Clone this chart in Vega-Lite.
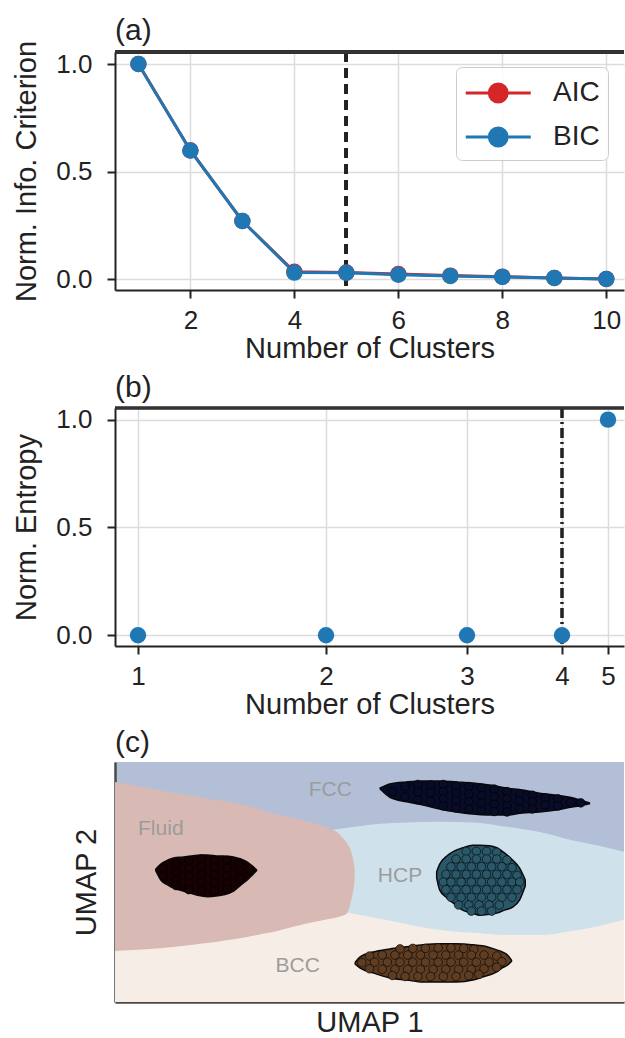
{
  "$schema": "https://vega.github.io/schema/vega-lite/v6.json",
  "background": "white",
  "padding": {"left": 12, "top": 16, "right": 0, "bottom": 0},
  "spacing": 9,
  "resolve": {"scale": {"color": "independent", "fill": "independent", "x": "independent", "y": "independent"}},
  "config": {
    "font": "Liberation Sans",
    "view": {"stroke": null},
    "axis": {
      "labelFontSize": 26, "titleFontSize": 29, "titleFontWeight": "normal",
      "labelColor": "#222", "titleColor": "#222", "tickColor": "#222", "domainColor": "#222",
      "tickSize": 8, "tickWidth": 2, "domainWidth": 2, "gridColor": "#dcdcdc", "gridWidth": 1.5,
      "zindex": 1
    },
    "title": {"fontSize": 30, "fontWeight": "normal", "anchor": "start", "frame": "group", "offset": 4, "color": "#222"}
  },
  "vconcat": [
    {
      "width": 509, "height": 238,
      "title": {"text": "(a)", "offset": -6},
      "data": {"values": [
        {"k": 1, "c": "AIC", "v": 1.0}, {"k": 2, "c": "AIC", "v": 0.598}, {"k": 3, "c": "AIC", "v": 0.27},
        {"k": 4, "c": "AIC", "v": 0.034}, {"k": 5, "c": "AIC", "v": 0.03}, {"k": 6, "c": "AIC", "v": 0.023},
        {"k": 7, "c": "AIC", "v": 0.016}, {"k": 8, "c": "AIC", "v": 0.011}, {"k": 9, "c": "AIC", "v": 0.005},
        {"k": 10, "c": "AIC", "v": 0.0},
        {"k": 1, "c": "BIC", "v": 1.0}, {"k": 2, "c": "BIC", "v": 0.598}, {"k": 3, "c": "BIC", "v": 0.27},
        {"k": 4, "c": "BIC", "v": 0.03}, {"k": 5, "c": "BIC", "v": 0.029}, {"k": 6, "c": "BIC", "v": 0.02},
        {"k": 7, "c": "BIC", "v": 0.014}, {"k": 8, "c": "BIC", "v": 0.01}, {"k": 9, "c": "BIC", "v": 0.005},
        {"k": 10, "c": "BIC", "v": 0.0}
      ]},
      "layer": [
        {
          "mark": {"type": "rule", "strokeDash": [10, 6], "strokeWidth": 3, "color": "#222"},
          "encoding": {"x": {"datum": 5, "type": "quantitative"}}
        },
        {
          "mark": {"type": "line", "strokeWidth": 3, "point": {"filled": true, "size": 270, "opacity": 1}},
          "encoding": {
            "x": {"field": "k", "type": "quantitative", "scale": {"domain": [0.55, 10.34], "nice": false, "zero": false},
                  "axis": {"values": [2, 4, 6, 8, 10], "title": "Number of Clusters", "labelPadding": 9, "titlePadding": 1, "grid": true}},
            "y": {"field": "v", "type": "quantitative", "scale": {"domain": [-0.051, 1.056], "nice": false, "zero": false},
                  "axis": {"values": [0, 0.5, 1], "format": ".1f", "title": "Norm. Info. Criterion", "labelPadding": 15, "titlePadding": 14, "grid": true}},
            "color": {"field": "c", "type": "nominal",
                      "scale": {"domain": ["AIC", "BIC"], "range": ["#d62728", "#1f77b4"]},
                      "legend": {
                        "title": null, "orient": "none", "legendX": 341, "legendY": 15,
                        "padding": 8, "cornerRadius": 6, "strokeColor": "#cccccc", "fillColor": "rgba(255,255,255,0.85)",
                        "labelFontSize": 28, "labelColor": "#222", "labelOffset": 53,
                        "symbolType": "M-1,0L3,0M0.45,0A0.55,0.55 0 1,0 1.55,0A0.55,0.55 0 1,0 0.45,0Z",
                        "symbolSize": 1056, "symbolStrokeWidth": 3, "rowPadding": 11,
                        "encode": {"symbols": {"update": {
                          "fill": {"scale": "color", "field": "value"},
                          "stroke": {"scale": "color", "field": "value"},
                          "opacity": {"value": 1}
                        }}}
                      }}
          }
        },
        {
          "mark": {"type": "rule", "strokeWidth": 2.5, "color": "#333"},
          "encoding": {"y": {"datum": 1.056, "type": "quantitative"}}
        }
      ]
    },
    {
      "width": 509, "height": 238,
      "title": {"text": "(b)"},
      "data": {"values": [
        {"k": 1, "e": 0}, {"k": 2, "e": 0}, {"k": 3, "e": 0}, {"k": 4, "e": 0}, {"k": 5, "e": 1}
      ]},
      "layer": [
        {
          "mark": {"type": "rule", "strokeDash": [10, 4, 2, 4], "strokeWidth": 2.5, "color": "#222"},
          "encoding": {"x": {"datum": 4, "type": "quantitative"}}
        },
        {
          "mark": {"type": "point", "filled": true, "size": 270, "opacity": 1, "color": "#1f77b4"},
          "encoding": {
            "x": {"field": "k", "type": "quantitative",
                  "scale": {"domain": [0.89, 1, 2, 3, 4, 5, 6], "range": [0, 23, 211, 352, 447, 493, 509], "nice": false, "zero": false},
                  "axis": {"values": [1, 2, 3, 4, 5], "format": "d", "title": "Number of Clusters", "labelPadding": 9, "titlePadding": 1, "grid": true}},
            "y": {"field": "e", "type": "quantitative", "scale": {"domain": [-0.05, 1.054], "nice": false, "zero": false},
                  "axis": {"values": [0, 0.5, 1], "format": ".1f", "title": "Norm. Entropy", "labelPadding": 15, "titlePadding": 14, "grid": true}}
          }
        },
        {
          "mark": {"type": "rule", "strokeWidth": 2.5, "color": "#333"},
          "encoding": {"y": {"datum": 1.054, "type": "quantitative"}}
        }
      ]
    },
    {
      "width": 509, "height": 240,
      "title": {"text": "(c)"},
      "view": {"fill": "#b2bfd7"},
      "encoding": {
        "x": {"type": "quantitative", "scale": {"domain": [0, 10], "nice": false, "zero": false},
              "axis": {"title": "UMAP 1", "labels": false, "ticks": false, "grid": false, "titlePadding": 6, "domainColor": "#4a4a4a", "domainWidth": 2.5}},
        "y": {"type": "quantitative", "scale": {"domain": [0, 4.7], "nice": false, "zero": false},
              "axis": {"title": "UMAP 2", "labels": false, "ticks": false, "grid": false, "titlePadding": 14, "domainColor": "#4a4a4a", "domainWidth": 2.5}}
      },
      "layer": [
        {
          "data": {"values": [{"u": 0, "v": 2}, {"u": 10, "v": 2}]},
          "mark": {"type": "area", "color": "#f7ede7"},
          "encoding": {"x": {"field": "u"}, "y": {"field": "v"}}
        },
        {
          "data": {"values": [
            {"u": 4.2, "t": 3.36, "b": 1.8}, {"u": 4.64, "t": 3.42, "b": 1.74}, {"u": 5.01, "t": 3.47, "b": 1.67},
            {"u": 5.6, "t": 3.51, "b": 1.55}, {"u": 6.38, "t": 3.53, "b": 1.41}, {"u": 7.12, "t": 3.51, "b": 1.35},
            {"u": 7.69, "t": 3.43, "b": 1.31}, {"u": 8.34, "t": 3.33, "b": 1.31}, {"u": 8.98, "t": 3.17, "b": 1.39},
            {"u": 9.51, "t": 3.06, "b": 1.49}, {"u": 10, "t": 2.94, "b": 1.61}
          ]},
          "mark": {"type": "area", "color": "#cfe1eb", "interpolate": "monotone"},
          "encoding": {"x": {"field": "u"}, "y": {"field": "t"}, "y2": {"field": "b"}}
        },
        {
          "data": {"values": [
            {"v": 1.0, "u": 0}, {"v": 1.04, "u": 0.7}, {"v": 1.14, "u": 1.68}, {"v": 1.35, "u": 2.99},
            {"v": 1.51, "u": 3.64}, {"v": 1.74, "u": 4.56}, {"v": 2.0, "u": 4.64}, {"v": 2.23, "u": 4.69},
            {"v": 2.53, "u": 4.71}, {"v": 2.78, "u": 4.68}, {"v": 3.02, "u": 4.61}, {"v": 3.21, "u": 4.48},
            {"v": 3.37, "u": 4.29}, {"v": 3.57, "u": 3.64}, {"v": 3.66, "u": 3.23}, {"v": 3.9, "u": 2.33},
            {"v": 4.01, "u": 1.66}, {"v": 4.31, "u": 0}
          ]},
          "mark": {"type": "area", "color": "#d9b9b3", "orient": "horizontal", "interpolate": "monotone"},
          "encoding": {"x": {"field": "u", "stack": null}, "y": {"field": "v"}}
        },
        {
          "data": {"values": [
            {"blob": "FCC", "u": 5.21, "t": 4.19, "b": 4.17}, {"blob": "FCC", "u": 5.4, "t": 4.27, "b": 4.01},
            {"blob": "FCC", "u": 5.73, "t": 4.31, "b": 3.92}, {"blob": "FCC", "u": 6.05, "t": 4.33, "b": 3.86},
            {"blob": "FCC", "u": 6.38, "t": 4.33, "b": 3.78}, {"blob": "FCC", "u": 6.71, "t": 4.31, "b": 3.72},
            {"blob": "FCC", "u": 7.03, "t": 4.29, "b": 3.68}, {"blob": "FCC", "u": 7.36, "t": 4.25, "b": 3.66},
            {"blob": "FCC", "u": 7.69, "t": 4.19, "b": 3.66}, {"blob": "FCC", "u": 8.0, "t": 4.15, "b": 3.7},
            {"blob": "FCC", "u": 8.34, "t": 4.09, "b": 3.72}, {"blob": "FCC", "u": 8.67, "t": 4.05, "b": 3.76},
            {"blob": "FCC", "u": 8.98, "t": 4.0, "b": 3.82}, {"blob": "FCC", "u": 9.12, "t": 3.96, "b": 3.84},
            {"blob": "FCC", "u": 9.32, "t": 3.9, "b": 3.88},
            {"blob": "Fluid", "u": 0.8, "t": 2.6, "b": 2.57}, {"blob": "Fluid", "u": 0.9, "t": 2.7, "b": 2.39},
            {"blob": "Fluid", "u": 1.04, "t": 2.78, "b": 2.29}, {"blob": "Fluid", "u": 1.15, "t": 2.82, "b": 2.23},
            {"blob": "Fluid", "u": 1.35, "t": 2.84, "b": 2.17}, {"blob": "Fluid", "u": 1.49, "t": 2.86, "b": 2.13},
            {"blob": "Fluid", "u": 1.68, "t": 2.88, "b": 2.08}, {"blob": "Fluid", "u": 1.82, "t": 2.88, "b": 2.06},
            {"blob": "Fluid", "u": 2.02, "t": 2.86, "b": 2.08}, {"blob": "Fluid", "u": 2.13, "t": 2.86, "b": 2.1},
            {"blob": "Fluid", "u": 2.33, "t": 2.84, "b": 2.17}, {"blob": "Fluid", "u": 2.47, "t": 2.8, "b": 2.29},
            {"blob": "Fluid", "u": 2.6, "t": 2.74, "b": 2.39}, {"blob": "Fluid", "u": 2.7, "t": 2.66, "b": 2.49},
            {"blob": "Fluid", "u": 2.78, "t": 2.59, "b": 2.57},
            {"blob": "HCP", "u": 6.32, "t": 2.55, "b": 2.43}, {"blob": "HCP", "u": 6.38, "t": 2.7, "b": 2.19},
            {"blob": "HCP", "u": 6.52, "t": 2.86, "b": 2.04}, {"blob": "HCP", "u": 6.67, "t": 2.96, "b": 1.92},
            {"blob": "HCP", "u": 6.83, "t": 3.02, "b": 1.8}, {"blob": "HCP", "u": 7.03, "t": 3.07, "b": 1.74},
            {"blob": "HCP", "u": 7.16, "t": 3.07, "b": 1.7}, {"blob": "HCP", "u": 7.36, "t": 3.06, "b": 1.72},
            {"blob": "HCP", "u": 7.5, "t": 3.02, "b": 1.74}, {"blob": "HCP", "u": 7.65, "t": 2.92, "b": 1.8},
            {"blob": "HCP", "u": 7.81, "t": 2.78, "b": 1.86}, {"blob": "HCP", "u": 7.95, "t": 2.62, "b": 2.0},
            {"blob": "HCP", "u": 8.06, "t": 2.39, "b": 2.27},
            {"blob": "BCC", "u": 4.72, "t": 0.78, "b": 0.74}, {"blob": "BCC", "u": 4.81, "t": 0.88, "b": 0.67},
            {"blob": "BCC", "u": 5.07, "t": 0.98, "b": 0.57}, {"blob": "BCC", "u": 5.4, "t": 1.04, "b": 0.47},
            {"blob": "BCC", "u": 5.73, "t": 1.08, "b": 0.43}, {"blob": "BCC", "u": 6.05, "t": 1.12, "b": 0.39},
            {"blob": "BCC", "u": 6.38, "t": 1.14, "b": 0.39}, {"blob": "BCC", "u": 6.71, "t": 1.14, "b": 0.39},
            {"blob": "BCC", "u": 7.03, "t": 1.12, "b": 0.43}, {"blob": "BCC", "u": 7.22, "t": 1.1, "b": 0.49},
            {"blob": "BCC", "u": 7.5, "t": 1.02, "b": 0.59}, {"blob": "BCC", "u": 7.61, "t": 0.98, "b": 0.67},
            {"blob": "BCC", "u": 7.71, "t": 0.92, "b": 0.72}, {"blob": "BCC", "u": 7.79, "t": 0.82, "b": 0.8}
          ]},
          "mark": {"type": "area", "interpolate": "monotone", "stroke": "#0a0a0a", "strokeWidth": 1.5, "fillOpacity": 1},
          "encoding": {
            "x": {"field": "u"}, "y": {"field": "t"}, "y2": {"field": "b"},
            "fill": {"field": "blob", "type": "nominal", "legend": null,
                     "scale": {"domain": ["FCC", "Fluid", "HCP", "BCC"], "range": ["#080c26", "#160202", "#2a5868", "#5e3d22"]}}
          }
        },
        {
          "data": {"values": [
            {"b": "FCC", "u": 5.45, "v": 4.12},
            {"b": "FCC", "u": 5.7, "v": 4.22}, {"b": "FCC", "u": 5.7, "v": 4.02},
            {"b": "FCC", "u": 5.95, "v": 4.26}, {"b": "FCC", "u": 5.95, "v": 4.12}, {"b": "FCC", "u": 5.95, "v": 3.96},
            {"b": "FCC", "u": 6.2, "v": 4.25}, {"b": "FCC", "u": 6.2, "v": 4.1}, {"b": "FCC", "u": 6.2, "v": 3.93},
            {"b": "FCC", "u": 6.45, "v": 4.26}, {"b": "FCC", "u": 6.45, "v": 4.12}, {"b": "FCC", "u": 6.45, "v": 3.98}, {"b": "FCC", "u": 6.45, "v": 3.84},
            {"b": "FCC", "u": 6.7, "v": 4.23}, {"b": "FCC", "u": 6.7, "v": 4.09}, {"b": "FCC", "u": 6.7, "v": 3.94}, {"b": "FCC", "u": 6.7, "v": 3.8},
            {"b": "FCC", "u": 6.95, "v": 4.22}, {"b": "FCC", "u": 6.95, "v": 4.07}, {"b": "FCC", "u": 6.95, "v": 3.92}, {"b": "FCC", "u": 6.95, "v": 3.77},
            {"b": "FCC", "u": 7.2, "v": 4.19}, {"b": "FCC", "u": 7.2, "v": 4.04}, {"b": "FCC", "u": 7.2, "v": 3.89}, {"b": "FCC", "u": 7.2, "v": 3.75},
            {"b": "FCC", "u": 7.45, "v": 4.17}, {"b": "FCC", "u": 7.45, "v": 4.02}, {"b": "FCC", "u": 7.45, "v": 3.87}, {"b": "FCC", "u": 7.45, "v": 3.73},
            {"b": "FCC", "u": 7.7, "v": 4.12}, {"b": "FCC", "u": 7.7, "v": 3.98}, {"b": "FCC", "u": 7.7, "v": 3.84}, {"b": "FCC", "u": 7.7, "v": 3.72},
            {"b": "FCC", "u": 7.95, "v": 4.08}, {"b": "FCC", "u": 7.95, "v": 3.94}, {"b": "FCC", "u": 7.95, "v": 3.78},
            {"b": "FCC", "u": 8.2, "v": 4.05}, {"b": "FCC", "u": 8.2, "v": 3.92}, {"b": "FCC", "u": 8.2, "v": 3.78},
            {"b": "FCC", "u": 8.45, "v": 4.0}, {"b": "FCC", "u": 8.45, "v": 3.86},
            {"b": "FCC", "u": 8.7, "v": 3.98}, {"b": "FCC", "u": 8.7, "v": 3.84},
            {"b": "FCC", "u": 8.95, "v": 3.91}, {"b": "FCC", "u": 9.15, "v": 3.9},
            {"b": "Fluid", "u": 0.95, "v": 2.62}, {"b": "Fluid", "u": 0.95, "v": 2.46},
            {"b": "Fluid", "u": 1.2, "v": 2.72}, {"b": "Fluid", "u": 1.2, "v": 2.56}, {"b": "Fluid", "u": 1.2, "v": 2.4}, {"b": "Fluid", "u": 1.2, "v": 2.28},
            {"b": "Fluid", "u": 1.45, "v": 2.77}, {"b": "Fluid", "u": 1.45, "v": 2.62}, {"b": "Fluid", "u": 1.45, "v": 2.47}, {"b": "Fluid", "u": 1.45, "v": 2.32}, {"b": "Fluid", "u": 1.45, "v": 2.2},
            {"b": "Fluid", "u": 1.7, "v": 2.8}, {"b": "Fluid", "u": 1.7, "v": 2.65}, {"b": "Fluid", "u": 1.7, "v": 2.5}, {"b": "Fluid", "u": 1.7, "v": 2.35}, {"b": "Fluid", "u": 1.7, "v": 2.18},
            {"b": "Fluid", "u": 1.95, "v": 2.78}, {"b": "Fluid", "u": 1.95, "v": 2.63}, {"b": "Fluid", "u": 1.95, "v": 2.48}, {"b": "Fluid", "u": 1.95, "v": 2.33}, {"b": "Fluid", "u": 1.95, "v": 2.17},
            {"b": "Fluid", "u": 2.2, "v": 2.77}, {"b": "Fluid", "u": 2.2, "v": 2.62}, {"b": "Fluid", "u": 2.2, "v": 2.47}, {"b": "Fluid", "u": 2.2, "v": 2.32}, {"b": "Fluid", "u": 2.2, "v": 2.2},
            {"b": "Fluid", "u": 2.45, "v": 2.72}, {"b": "Fluid", "u": 2.45, "v": 2.57}, {"b": "Fluid", "u": 2.45, "v": 2.42},
            {"b": "Fluid", "u": 2.65, "v": 2.6},
            {"b": "HCP", "u": 6.9, "v": 2.95}, {"b": "HCP", "u": 7.1, "v": 2.95}, {"b": "HCP", "u": 7.3, "v": 2.95}, {"b": "HCP", "u": 7.5, "v": 2.93},
            {"b": "HCP", "u": 6.7, "v": 2.8}, {"b": "HCP", "u": 6.9, "v": 2.8}, {"b": "HCP", "u": 7.1, "v": 2.8}, {"b": "HCP", "u": 7.3, "v": 2.8}, {"b": "HCP", "u": 7.5, "v": 2.8}, {"b": "HCP", "u": 7.7, "v": 2.78},
            {"b": "HCP", "u": 6.6, "v": 2.65}, {"b": "HCP", "u": 6.8, "v": 2.65}, {"b": "HCP", "u": 7.0, "v": 2.65}, {"b": "HCP", "u": 7.2, "v": 2.65}, {"b": "HCP", "u": 7.4, "v": 2.65}, {"b": "HCP", "u": 7.6, "v": 2.65}, {"b": "HCP", "u": 7.8, "v": 2.63},
            {"b": "HCP", "u": 6.5, "v": 2.5}, {"b": "HCP", "u": 6.7, "v": 2.5}, {"b": "HCP", "u": 6.9, "v": 2.5}, {"b": "HCP", "u": 7.1, "v": 2.5}, {"b": "HCP", "u": 7.3, "v": 2.5}, {"b": "HCP", "u": 7.5, "v": 2.5}, {"b": "HCP", "u": 7.7, "v": 2.5}, {"b": "HCP", "u": 7.9, "v": 2.48},
            {"b": "HCP", "u": 6.45, "v": 2.35}, {"b": "HCP", "u": 6.6, "v": 2.35}, {"b": "HCP", "u": 6.8, "v": 2.35}, {"b": "HCP", "u": 7.0, "v": 2.35}, {"b": "HCP", "u": 7.2, "v": 2.35}, {"b": "HCP", "u": 7.4, "v": 2.35}, {"b": "HCP", "u": 7.6, "v": 2.35}, {"b": "HCP", "u": 7.8, "v": 2.35}, {"b": "HCP", "u": 7.95, "v": 2.35},
            {"b": "HCP", "u": 6.5, "v": 2.2}, {"b": "HCP", "u": 6.7, "v": 2.2}, {"b": "HCP", "u": 6.9, "v": 2.2}, {"b": "HCP", "u": 7.1, "v": 2.2}, {"b": "HCP", "u": 7.3, "v": 2.2}, {"b": "HCP", "u": 7.5, "v": 2.2}, {"b": "HCP", "u": 7.7, "v": 2.2}, {"b": "HCP", "u": 7.9, "v": 2.2},
            {"b": "HCP", "u": 6.6, "v": 2.05}, {"b": "HCP", "u": 6.8, "v": 2.05}, {"b": "HCP", "u": 7.0, "v": 2.05}, {"b": "HCP", "u": 7.2, "v": 2.05}, {"b": "HCP", "u": 7.4, "v": 2.05}, {"b": "HCP", "u": 7.6, "v": 2.05}, {"b": "HCP", "u": 7.8, "v": 2.05},
            {"b": "HCP", "u": 6.75, "v": 1.9}, {"b": "HCP", "u": 6.95, "v": 1.9}, {"b": "HCP", "u": 7.15, "v": 1.9}, {"b": "HCP", "u": 7.35, "v": 1.9}, {"b": "HCP", "u": 7.55, "v": 1.9},
            {"b": "HCP", "u": 7.0, "v": 1.78}, {"b": "HCP", "u": 7.2, "v": 1.78}, {"b": "HCP", "u": 7.4, "v": 1.78},
            {"b": "BCC", "u": 5.6, "v": 1.04}, {"b": "BCC", "u": 5.85, "v": 1.05}, {"b": "BCC", "u": 6.1, "v": 1.05}, {"b": "BCC", "u": 6.35, "v": 1.06}, {"b": "BCC", "u": 6.6, "v": 1.06}, {"b": "BCC", "u": 6.85, "v": 1.05}, {"b": "BCC", "u": 7.05, "v": 1.03},
            {"b": "BCC", "u": 5.0, "v": 0.9}, {"b": "BCC", "u": 5.25, "v": 0.92}, {"b": "BCC", "u": 5.5, "v": 0.92}, {"b": "BCC", "u": 5.75, "v": 0.92}, {"b": "BCC", "u": 6.0, "v": 0.92}, {"b": "BCC", "u": 6.25, "v": 0.92}, {"b": "BCC", "u": 6.5, "v": 0.92}, {"b": "BCC", "u": 6.75, "v": 0.92}, {"b": "BCC", "u": 7.0, "v": 0.92}, {"b": "BCC", "u": 7.25, "v": 0.92}, {"b": "BCC", "u": 7.5, "v": 0.9},
            {"b": "BCC", "u": 4.85, "v": 0.77}, {"b": "BCC", "u": 5.1, "v": 0.78}, {"b": "BCC", "u": 5.35, "v": 0.78}, {"b": "BCC", "u": 5.6, "v": 0.78}, {"b": "BCC", "u": 5.85, "v": 0.78}, {"b": "BCC", "u": 6.1, "v": 0.78}, {"b": "BCC", "u": 6.35, "v": 0.78}, {"b": "BCC", "u": 6.6, "v": 0.78}, {"b": "BCC", "u": 6.85, "v": 0.78}, {"b": "BCC", "u": 7.1, "v": 0.78}, {"b": "BCC", "u": 7.35, "v": 0.78}, {"b": "BCC", "u": 7.6, "v": 0.79},
            {"b": "BCC", "u": 5.0, "v": 0.65}, {"b": "BCC", "u": 5.25, "v": 0.64}, {"b": "BCC", "u": 5.5, "v": 0.64}, {"b": "BCC", "u": 5.75, "v": 0.64}, {"b": "BCC", "u": 6.0, "v": 0.64}, {"b": "BCC", "u": 6.25, "v": 0.64}, {"b": "BCC", "u": 6.5, "v": 0.64}, {"b": "BCC", "u": 6.75, "v": 0.64}, {"b": "BCC", "u": 7.0, "v": 0.64}, {"b": "BCC", "u": 7.25, "v": 0.65}, {"b": "BCC", "u": 7.5, "v": 0.68},
            {"b": "BCC", "u": 5.45, "v": 0.52}, {"b": "BCC", "u": 5.7, "v": 0.5}, {"b": "BCC", "u": 5.95, "v": 0.5}, {"b": "BCC", "u": 6.2, "v": 0.5}, {"b": "BCC", "u": 6.45, "v": 0.5}, {"b": "BCC", "u": 6.7, "v": 0.5}, {"b": "BCC", "u": 6.95, "v": 0.52}, {"b": "BCC", "u": 7.15, "v": 0.54}
          ]},
          "mark": {"type": "point", "filled": true, "size": 74, "opacity": 1, "stroke": "#000", "strokeWidth": 0.6},
          "encoding": {
            "x": {"field": "u"}, "y": {"field": "v"},
            "fill": {"field": "b", "type": "nominal", "legend": null,
                     "scale": {"domain": ["FCC", "Fluid", "HCP", "BCC"], "range": ["#1b2b7e", "#5e0d0d", "#62aecb", "#e09a63"]}}
          }
        },
        {
          "data": {"values": [
            {"label": "FCC", "u": 4.23, "v": 4.16}, {"label": "Fluid", "u": 0.9, "v": 3.38},
            {"label": "HCP", "u": 5.6, "v": 2.47}, {"label": "BCC", "u": 3.59, "v": 0.7}
          ]},
          "mark": {"type": "text", "fontSize": 21, "color": "#9c9c9c"},
          "encoding": {"x": {"field": "u"}, "y": {"field": "v"}, "text": {"field": "label"}}
        },
        {
          "mark": {"type": "rule", "strokeWidth": 2.5, "color": "#4a4a4a"},
          "encoding": {"y": {"datum": 4.7}}
        }
      ]
    }
  ]
}
